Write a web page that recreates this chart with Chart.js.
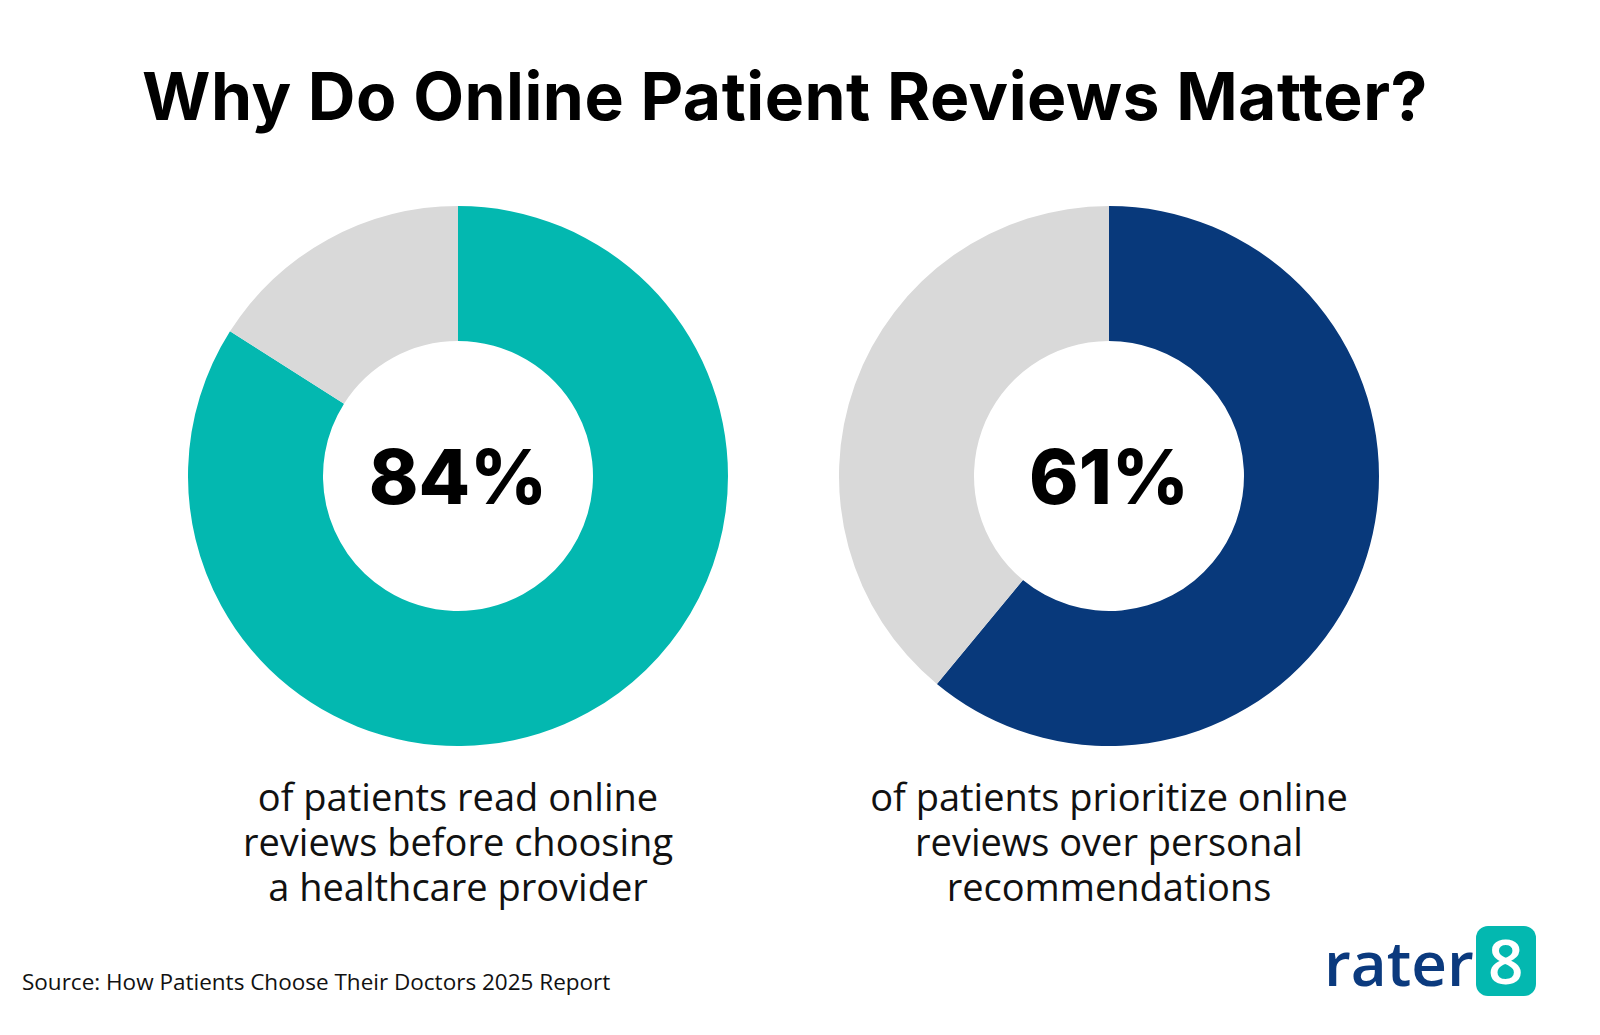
<!DOCTYPE html>
<html>
<head>
<meta charset="utf-8">
<script src="https://cdn.jsdelivr.net/npm/chart.js@4"></script>
<style>
body { margin: 0; width: 1600px; height: 1035px; background: #fff; position: relative; overflow: hidden; font-family: "Open Sans", sans-serif; }
h1 { position: absolute; top: 56px; left: 0; width: 1570px; margin: 0; text-align: center; font: 700 66px Inter, sans-serif; letter-spacing: 0.5px; color: #000; }
.wrap { position: absolute; top: 206px; width: 540px; height: 540px; }
.pct { position: absolute; top: 0; left: 0; width: 100%; height: 100%; display: flex; align-items: center; justify-content: center; font: 800 75px Inter, sans-serif; color: #000; pointer-events: none; }
.cap { position: absolute; top: 774px; width: 640px; text-align: center; font-size: 38px; line-height: 45px; color: #111; }
.src { position: absolute; left: 22px; top: 966px; font-size: 22.5px; color: #111; }
.logo { position: absolute; left: 1324px; top: 920px; font: 600 62px "Open Sans", sans-serif; color: #0b3a7e; }
.logo span { display: inline-block; background: #03b8b0; color: #fff; border-radius: 12px; width: 60px; height: 70px; line-height: 68px; text-align: center; margin-left: 2px; vertical-align: top; margin-top: 6px; }
</style>
</head>
<body>
<h1>Why Do Online Patient Reviews Matter?</h1>
<div class="wrap" style="left:188px"><canvas id="c1"></canvas><div class="pct">84%</div></div>
<div class="wrap" style="left:839px"><canvas id="c2"></canvas><div class="pct">61%</div></div>
<div class="cap" style="left:138px">of patients read online<br>reviews before choosing<br>a healthcare provider</div>
<div class="cap" style="left:789px">of patients prioritize online<br>reviews over personal<br>recommendations</div>
<div class="src">Source: How Patients Choose Their Doctors 2025 Report</div>
<div class="logo">rater<span>8</span></div>
<script>
// значения с картинки
var labels = ['Yes', 'Other'];
var readReviews = [84, 16];
var prioritize = [61, 39];
var colorsRead = ['#03b8b0', '#d9d9d9'];
var colorsPrior = ['#08397b', '#d9d9d9'];

function makeDonut(id, values, colors) {
    new Chart(document.getElementById(id), {
        type: 'doughnut',
        data: { labels: labels, datasets: [{ data: values, backgroundColor: colors, borderWidth: 0 }] },
        options: {
            cutout: '50%',
            animation: false,
            responsive: false,
            plugins: { legend: { display: false }, tooltip: { enabled: false } }
        }
    });
}
document.getElementById('c1').width = 540; document.getElementById('c1').height = 540;
document.getElementById('c2').width = 540; document.getElementById('c2').height = 540;
makeDonut('c1', readReviews, colorsRead);
makeDonut('c2', prioritize, colorsPrior);
</script>
</body>
</html>
